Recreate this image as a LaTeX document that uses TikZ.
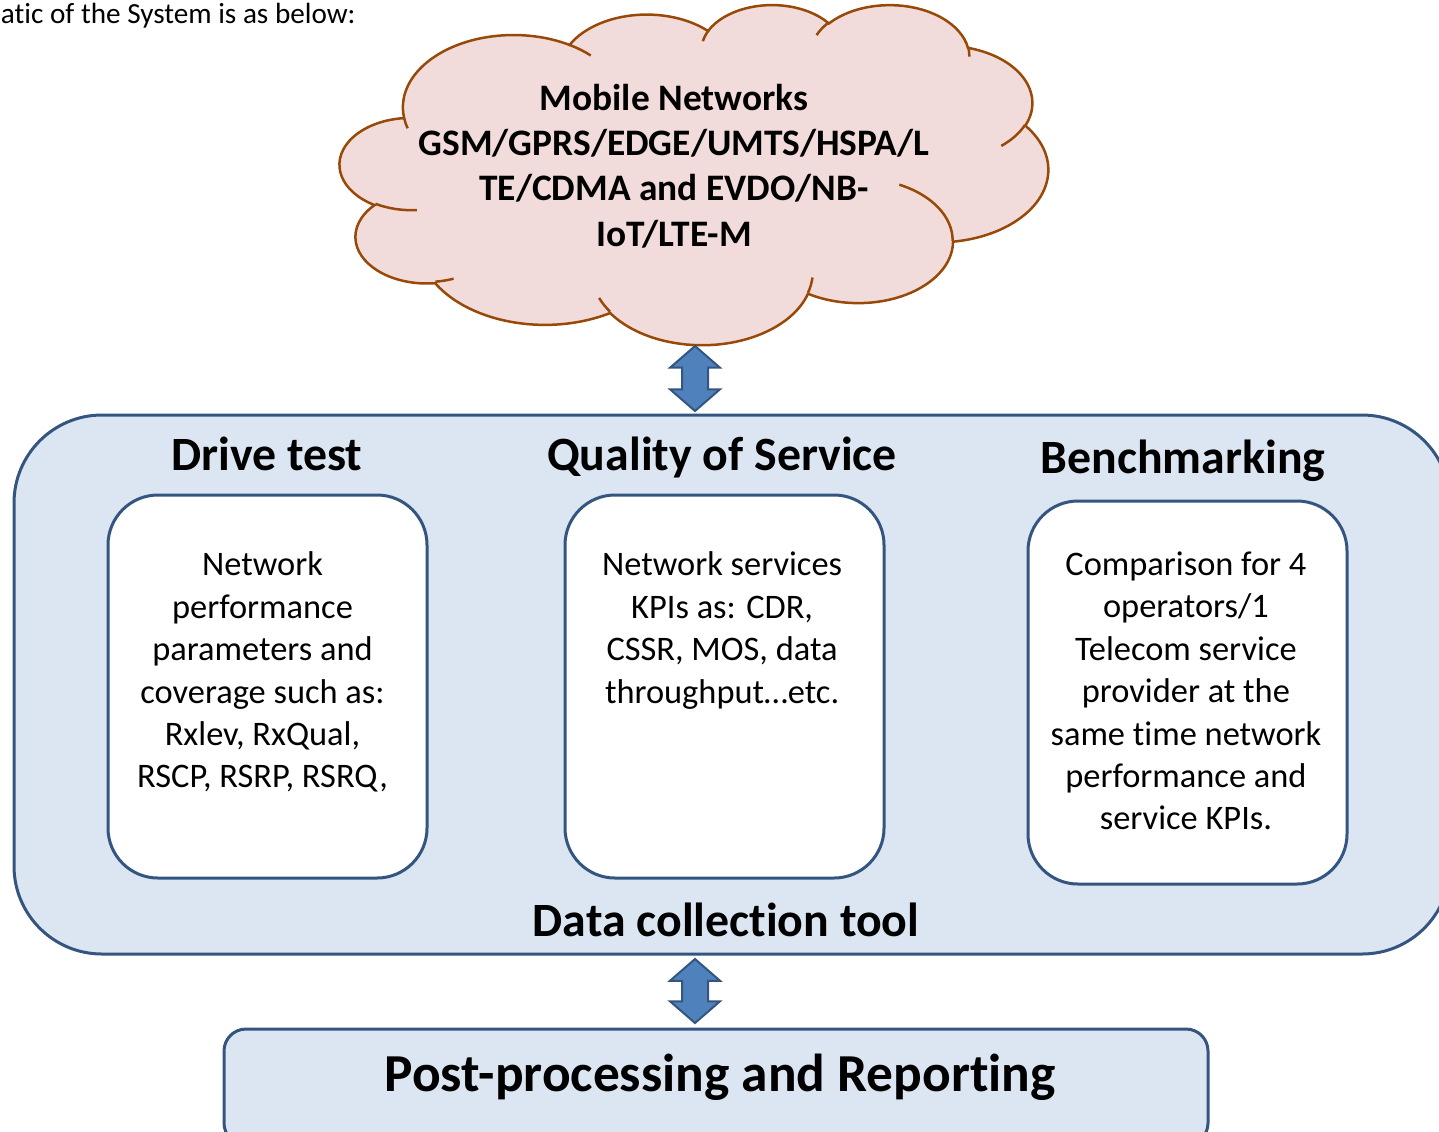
\documentclass[tikz,border=0pt]{standalone}
\usepackage{fontspec}
\setmainfont{Carlito}[Ligatures=NoCommon]
\usetikzlibrary{positioning,shapes.arrows}

\definecolor{cloudfill}{HTML}{F2DCDB}
\definecolor{cloudedge}{HTML}{984807}
\definecolor{panelfill}{HTML}{DCE6F2}
\definecolor{paneledge}{HTML}{34557F}
\definecolor{arrowfill}{HTML}{4F81BD}

\begin{document}
\begin{tikzpicture}[x=0.5pt,y=-0.5pt,
  panel/.style={draw=paneledge,line width=1.5pt,fill=panelfill,inner sep=0pt},
  kpibox/.style={draw=paneledge,line width=1.5pt,fill=white,rounded corners=25pt,
    minimum width=159.5pt,minimum height=191.5pt,inner sep=0pt},
  heading/.style={font=\fontsize{23.9}{28}\selectfont\bfseries,inner sep=0pt},
  kpitext/.style={font=\fontsize{17.2}{21.2}\selectfont,align=center,inner sep=0pt,anchor=north},
  updown/.style={double arrow,rotate=90,fill=arrowfill,draw=paneledge,line width=1pt,
    inner xsep=0pt,inner ysep=6pt,minimum width=24pt,
    double arrow head extend=6pt,double arrow tip angle=98}]
  \useasboundingbox (0,0) rectangle (1439,1131);

  % Caption line (cut at the left)
  \node[font=\fontsize{14.6}{17.5}\selectfont,anchor=base east,inner sep=0pt] (caption) at (356,23)
    {atic of the System is as below:};

  % Cloud
  \begin{scope}[shift={(340,4)},x=8.1944pt,y=-3.9352pt]
    \draw[fill=cloudfill,draw=cloudedge,line width=1.25pt] (3.9,14.37)
      arc[start angle=-187.75,end angle=-59.63,x radius=6.753,y radius=9.19]
      arc[start angle=-152.04,end angle=-45.46,x radius=5.333,y radius=7.267]
      arc[start angle=-153.49,end angle=-37.34,x radius=4.365,y radius=5.945]
      arc[start angle=-139.72,end angle=-10.21,x radius=4.857,y radius=6.595]
      arc[start angle=-74.77,end angle=23.21,x radius=5.333,y radius=7.273]
      arc[start angle=-37.54,end angle=81.86,x radius=6.775,y radius=9.22]
      arc[start angle=0.46,end angle=121.98,x radius=5.785,y radius=7.867]
      arc[start angle=16.84,end angle=146.23,x radius=6.752,y radius=9.215]
      arc[start angle=58.98,end angle=150.19,x radius=7.72,y radius=10.543]
      arc[start angle=-276.69,end angle=-136.91,x radius=4.36,y radius=5.918]
      arc[start angle=-239.64,end angle=-95.89,x radius=4.345,y radius=5.945]
      -- cycle;
    % inner puff lines
    \draw[draw=cloudedge,line width=1.25pt]
      (4.693,26.177) arc[start angle=85.55,end angle=120.36,x radius=4.345,y radius=5.945]
      (6.928,34.899) arc[start angle=68.24,end angle=83.31,x radius=4.36,y radius=5.918]
      (16.478,39.09) arc[start angle=146.23,end angle=158.47,x radius=6.752,y radius=9.215]
      (28.827,34.751) arc[start angle=4.74,end angle=16.84,x radius=6.752,y radius=9.215]
      (34.129,22.954) arc[start angle=-64.03,end angle=0.46,x radius=5.785,y radius=7.867]
      (41.798,15.354) arc[start angle=23.21,end angle=49.65,x radius=5.333,y radius=7.273]
      (38.324,5.426) arc[start angle=-10.21,end angle=0.82,x radius=4.857,y radius=6.595]
      (29.078,3.952) arc[start angle=-156.29,end angle=-139.72,x radius=4.857,y radius=6.595]
      (22.141,4.72) arc[start angle=-167.73,end angle=-153.49,x radius=4.365,y radius=5.945]
      (14,5.192) arc[start angle=-59.63,end angle=-45.74,x radius=6.753,y radius=9.19]
      (4.127,15.789) arc[start angle=163.2,end angle=172.26,x radius=6.753,y radius=9.19];
  \end{scope}
  \node[font=\fontsize{18.7}{22.7}\selectfont\bfseries,align=center,inner sep=0pt] (mobile) at (674,166)
    {Mobile Networks\\GSM/GPRS/EDGE/UMTS/HSPA/L\\TE/CDMA and EVDO/NB-\\IoT/LTE-M};

  % Data collection tool
  \node[panel,rounded corners=44pt,minimum width=718pt,minimum height=269.5pt] (tool) at (732,684.5) {};
  \node[heading,above=9pt of tool.south,xshift=-3pt] (tooltitle) {Data collection tool};

  \node[kpibox] (drivebox) at (267.5,686.5) {};
  \node[kpibox] (qosbox) at (724.5,686.5) {};
  \node[kpibox] (benchbox) at (1187.5,692.5) {};

  \node[heading,anchor=base] (drivehead) at (267,470) {Drive test};
  \node[heading,anchor=base] (qoshead) at (722,470) {Quality of Service};
  \node[heading,anchor=base] (benchhead) at (1183,473) {Benchmarking};

  \node[kpitext,below=29pt of drivebox.north,xshift=-2.5pt] (drivetext)
    {Network\\performance\\parameters and\\coverage such as:\\Rxlev, RxQual,\\RSCP, RSRP, RSRQ,};
  \node[kpitext,below=29pt of qosbox.north,xshift=-1.2pt] (qostext)
    {Network services\\KPIs as: CDR,\\CSSR, MOS, data\\throughput…etc.};
  \node[kpitext,below=26pt of benchbox.north,xshift=-0.8pt] (benchtext)
    {Comparison for 4\\operators/1\\Telecom service\\provider at the\\same time network\\performance and\\service KPIs.};

  % Block arrows
  \node[updown,minimum height=32.5pt] (uparrow) at (695,378.5) {};
  \node[updown,minimum height=32pt] (downarrow) at (695,991) {};

  % Post-processing
  \node[panel,rounded corners=11pt,minimum width=492pt,minimum height=58pt] (report) at (716,1087) {};
  \node[font=\fontsize{26.7}{32}\selectfont\bfseries,inner sep=0pt] (reporttext) at (720,1077)
    {Post-processing and Reporting};
\end{tikzpicture}
\end{document}
